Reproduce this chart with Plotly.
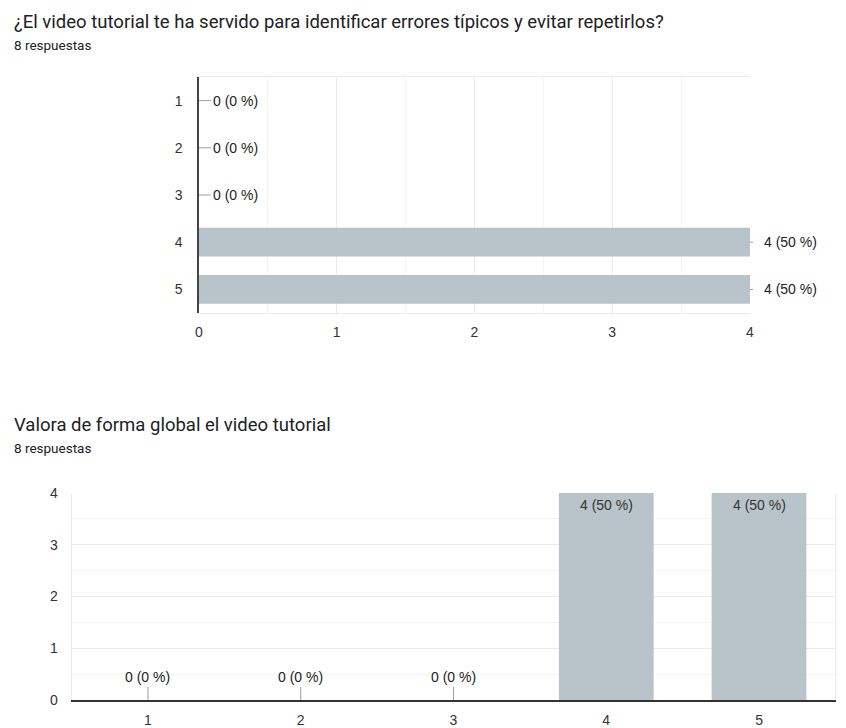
import plotly.graph_objects as go

# ---- data ----
title1 = "¿El video tutorial te ha servido para identificar errores típicos y evitar repetirlos?"
title2 = "Valora de forma global el video tutorial"
subtitle = "8 respuestas"
categories = ["1", "2", "3", "4", "5"]
values1 = [0, 0, 0, 4, 4]
values2 = [0, 0, 0, 4, 4]
total = 8

BAR = "#b8c4ca"
GRID = "#ebebeb"
MINOR = "#f4f4f4"
AXIS = "#333333"
TXT = "#222222"
FONT = "Liberation Sans, Arial, sans-serif"
TFONT = "Roboto, sans-serif"

# page body has an 8px margin; figure fills the rest of the 846x728 window
OFF = 8
W, H = 846 - OFF, 728 - OFF


def fx(px):
    return (px - OFF) / W


def fy(py):
    return 1 - (py - OFF) / H


def lab(v):
    return f"{v} ({round(100 * v / total)} %)"


fig = go.Figure()
fig.add_trace(go.Bar(x=values1, y=categories, orientation="h", marker=dict(color=BAR, line=dict(width=0)),
                     width=0.61, xaxis="x", yaxis="y", hoverinfo="skip", showlegend=False))
fig.add_trace(go.Bar(x=categories, y=values2, marker=dict(color=BAR, line=dict(width=0)),
                     width=0.62, xaxis="x2", yaxis="y2", hoverinfo="skip", showlegend=False))

ann = []
# titles
for txt, ypx, sz in [(title1, 21.5, 18.5), (subtitle, 45, 13.5), (title2, 425, 18.5), (subtitle, 448, 13.5)]:
    ann.append(dict(text=txt, x=fx(12), y=fy(ypx), xref="paper", yref="paper", xanchor="left",
                    yanchor="middle", showarrow=False, font=dict(family=TFONT, size=sz, color="#202124")))

# top chart labels (category index positions)
for i, v in enumerate(values1):
    ann.append(dict(text=lab(v), x=v, y=i, xref="x", yref="y", showarrow=True, arrowhead=0,
                    arrowwidth=1, arrowcolor="#9e9e9e", ax=12, ay=0, xanchor="left", yanchor="middle",
                    startstandoff=(9 if v > 0 else 0),
                    font=dict(family=FONT, size=14, color=TXT)))
# bottom chart labels
for i, v in enumerate(values2):
    if v == 0:
        ann.append(dict(text=lab(v), x=i, y=v, xref="x2", yref="y2", showarrow=True, arrowhead=0,
                        arrowwidth=1, arrowcolor="#9e9e9e", ax=0, ay=-13, xanchor="center",
                        yanchor="bottom", font=dict(family=FONT, size=14, color=TXT)))
    else:
        ann.append(dict(text=lab(v), x=i, y=v, xref="x2", yref="y2", showarrow=False,
                        xanchor="center", yanchor="top", yshift=-2,
                        font=dict(family=FONT, size=14, color="#333333")))

fig.update_layout(
    template="none",
    width=W, height=H,
    margin=dict(l=0, r=0, t=0, b=0, autoexpand=False),
    paper_bgcolor="white", plot_bgcolor="white",
    font=dict(family=FONT, size=14, color=AXIS),
    annotations=ann,
    xaxis=dict(domain=[fx(199), fx(750)], anchor="y", range=[0, 4], dtick=1, showgrid=True,
               gridcolor=GRID, minor=dict(dtick=0.5, showgrid=True, gridcolor=MINOR),
               zeroline=False, showline=True, linecolor=GRID, mirror=True, ticks="", automargin=False,
               tickfont=dict(family=FONT, size=14, color=AXIS), ticklabelstandoff=6),
    yaxis=dict(domain=[fy(313), fy(77)], anchor="x", type="category",
               categoryorder="array", categoryarray=categories, autorange="reversed",
               showgrid=False, showline=True, linecolor="#444444", linewidth=1.5, ticks="",
               automargin=False, zeroline=False,
               tickfont=dict(family=FONT, size=14, color=AXIS), ticklabelstandoff=12),
    xaxis2=dict(domain=[fx(71.6), fx(835.4)], anchor="y2", type="category",
                categoryorder="array", categoryarray=categories, showgrid=False,
                showline=True, linecolor="#333333", linewidth=1.5, ticks="", automargin=False,
                zeroline=False,
                tickfont=dict(family=FONT, size=14, color=AXIS), ticklabelstandoff=6),
    yaxis2=dict(domain=[fy(700), fy(493)], anchor="x2", range=[0, 4], dtick=1,
                showgrid=True, gridcolor=GRID, minor=dict(dtick=0.5, showgrid=True, gridcolor=MINOR),
                zeroline=False, showline=True, linecolor=GRID, mirror=True, ticks="", automargin=False,
                tickfont=dict(family=FONT, size=14, color=AXIS), ticklabelstandoff=10),
)

fig.write_html("out.html")
